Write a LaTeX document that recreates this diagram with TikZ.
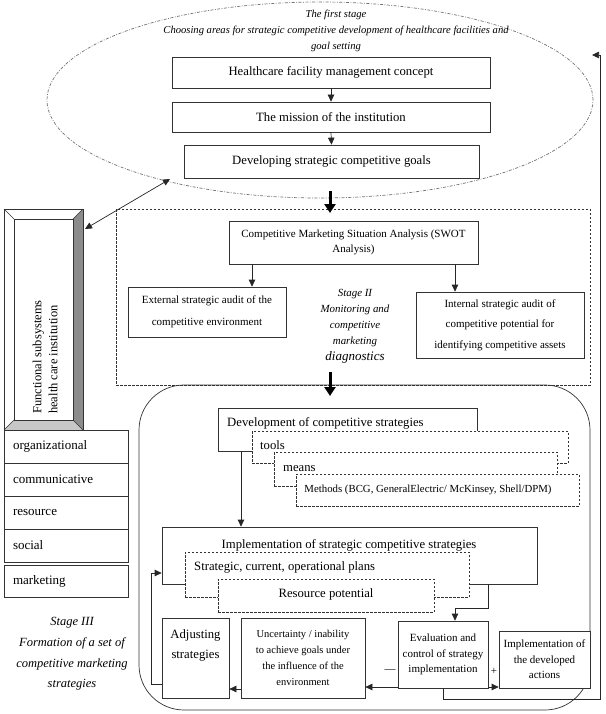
\documentclass[tikz,border=0pt]{standalone}
\usepackage{fontspec}
\setmainfont{Liberation Serif}
\usetikzlibrary{arrows.meta,shapes.geometric}
\newcommand\myfs[2]{\fontsize{#1}{#2}\selectfont}
\begin{document}
\begin{tikzpicture}[x=1pt,y=-1pt,
  bx/.style={draw=black!80, line width=0.7pt, fill=white, inner sep=0pt, align=center},
  dbx/.style={draw=black!80, line width=0.7pt, dash pattern=on 2.5pt off 1.5pt, fill=white, inner sep=0pt},
  arr/.style={draw=black!85, line width=0.7pt, -{Triangle[length=7pt,width=6.5pt]}},
  darr/.style={draw=black!85, line width=0.7pt, {Triangle[length=7pt,width=6.5pt]}-{Triangle[length=7pt,width=6.5pt]}},
  thk/.style={draw=black, line width=3pt, -{Triangle[length=9pt,width=11pt]}},
  lbl/.style={inner sep=0pt, align=center},
  big/.style={font=\myfs{12.7}{15}},
  mid/.style={font=\myfs{11}{15.5}},
  lst/.style={bx, minimum width=124pt, minimum height=33pt, text width=106pt, align=left, font=\myfs{13}{15}}
]
\useasboundingbox (0,0) rectangle (605,714);
\fill[white] (0,0) rectangle (605,714);

% ---------- Stage I ----------
\node[ellipse, draw=black!55, line width=0.7pt, dash pattern=on 3pt off 1.5pt on 0.8pt off 1.5pt,
      minimum width=546pt, minimum height=196pt, inner sep=0pt] (ell) at (320,100) {};
\node[lbl, font=\itshape\myfs{10.6}{16}] (fst) at (336,31)
  {The first stage\\Choosing areas for strategic competitive development of healthcare facilities and\\goal setting};
\node[bx, big, minimum width=318pt, minimum height=31pt] (hc) at (331,72.5) {Healthcare facility management concept};
\node[bx, big, minimum width=318pt, minimum height=30pt] (mis) at (331,117) {The mission of the institution};
\node[bx, big, minimum width=295pt, minimum height=33pt] (goal) at (331.5,161.5) {Developing strategic competitive goals};
\draw[arr] (hc.south) -- (mis.north);
\draw[arr] (mis.south) -- (goal.north);

% ---------- Stage II ----------
\node[dbx, fill=none, minimum width=474pt, minimum height=176pt] (s2) at (353,297) {};
\node[bx, font=\myfs{11}{15}, minimum width=249pt, minimum height=43pt] (swot) at (353.5,242.5)
  {Competitive Marketing Situation Analysis (SWOT\\Analysis)};
\node[bx, font=\myfs{11}{21.5}, minimum width=158pt, minimum height=50pt] (ext) at (207,312)
  {External strategic audit of the\\competitive environment};
\node[bx, font=\myfs{11}{20.5}, minimum width=168pt, minimum height=66pt] (int) at (500,325)
  {Internal strategic audit of\\competitive potential for\\identifying competitive assets};
\node[lbl, font=\itshape\myfs{10.9}{16}] (s2t) at (355,326)
  {Stage II\\Monitoring and\\competitive\\marketing\\{\myfs{13}{16}diagnostics}};
\coordinate (c1) at (252,270);
\coordinate (c2) at (455,270);
\draw[arr] (swot.south -| c1) -- (ext.north -| c1);
\draw[arr] (swot.south -| c2) -- (int.north -| c2);

\coordinate (t1a) at (330,191);
\coordinate (t1b) at (330,213);
\draw[thk] (t1a) -- (t1b);

% ---------- Stage III ----------
\node[draw=black!80, line width=0.7pt, rounded corners=45pt, minimum width=451pt, minimum height=325pt, inner sep=0pt] (s3) at (364.5,547.5) {};
\coordinate (t2a) at (330,372);
\coordinate (t2b) at (330,396);
\draw[thk] (t2a) -- (t2b);

\node[bx, minimum width=259pt, minimum height=43pt] (dev) at (347.5,429.5) {};
\node[lbl, big, anchor=west] (devt) at (227,423) {Development of competitive strategies};
\node[dbx, minimum width=316pt, minimum height=32pt] (tools) at (410,447) {};
\node[lbl, big, anchor=west] (toolst) at (260,445) {tools};
\node[dbx, minimum width=283pt, minimum height=34pt] (means) at (415.5,469) {};
\node[lbl, big, anchor=west] (meanst) at (283,469) {means};
\node[dbx, minimum width=283pt, minimum height=32pt] (meth) at (437.5,490) {};
\node[lbl, font=\myfs{10.8}{13}] (metht) at (428,490) {Methods (BCG, GeneralElectric/ McKinsey, Shell/DPM)};

\node[bx, minimum width=375pt, minimum height=57pt] (impl) at (349.5,555.5) {};
\node[lbl, big] (implt) at (349,545) {Implementation of strategic competitive strategies};
\node[dbx, minimum width=284pt, minimum height=45pt] (plan) at (327,574.5) {};
\node[lbl, big, anchor=west] (plant) at (194,567) {Strategic, current, operational plans};
\node[dbx, minimum width=216pt, minimum height=33pt] (res) at (326,595.5) {};
\node[lbl, big] (rest) at (326,594) {Resource potential};

\coordinate (g241) at (241,500);
\draw[arr] (dev.south -| g241) -- (impl.north -| g241);

\node[bx, minimum width=67pt, minimum height=80pt] (adj) at (195.5,658) {};
\node[lbl, font=\myfs{12.7}{20}] (adjt) at (195.5,645) {Adjusting\\strategies};
\node[bx, font=\myfs{10.5}{16}, minimum width=124pt, minimum height=80pt] (unc) at (303,658)
  {Uncertainty / inability\\to achieve goals under\\the influence of the\\environment};
\node[bx, mid, minimum width=90pt, minimum height=67pt] (eval) at (443,654.5)
  {Evaluation and\\control of strategy\\implementation};
\node[bx, mid, minimum width=91pt, minimum height=57pt] (act) at (544.5,659.5)
  {Implementation of\\the developed\\actions};
\node[lbl, font=\myfs{11}{13}] (minus) at (390,671) {—};
\node[lbl, font=\myfs{11}{13}] (plus) at (494,671) {+};

% connectors stage III
\coordinate (g488) at (488,608);
\coordinate (g455) at (455,608);
\draw[arr] (impl.south -| g488) -- (g488) -- (g455) -- (eval.north -| g455);
\coordinate (h687) at (0,687);
\coordinate (h689) at (0,689);
\coordinate (h684) at (0,684);
\draw[arr] (eval.west |- h687) -- (unc.east |- h687);
\draw[arr] (eval.east |- h687) -- (act.west |- h687);
\draw[arr] (unc.west |- h689) -- (adj.east |- h689);
\coordinate (g151) at (151,573);
\draw[arr] (adj.west |- h684) -- (g151 |- h684) -- (g151) -- (impl.west |- g151);
\coordinate (r1) at (600,699);
\coordinate (r2) at (600,55);
\coordinate (r3) at (592,55);
\draw[arr] (eval.south) |- (r1) -- (r2) -- (r3);

\node[lbl, font=\itshape\myfs{12.5}{20.7}] (s3t) at (72,654)
  {Stage III\\Formation of a set of\\competitive marketing\\strategies};

% ---------- Functional subsystems ----------
\fill[black!45] (73,219) -- (83,209) -- (83,430) -- (73,420) -- cycle;
\fill[black!22] (14,420) -- (73,420) -- (83,430) -- (4,430) -- cycle;
\draw[black!80, line width=0.7pt] (4,209) rectangle (83,430);
\draw[black!80, line width=0.7pt] (14,219) rectangle (73,420);
\draw[black!80, line width=0.6pt] (4,209) -- (14,219) (83,209) -- (73,219) (4,430) -- (14,420) (83,430) -- (73,420);
\node[lbl, rotate=90, anchor=west, align=left, font=\myfs{12.5}{16}] (fsub) at (45,414)
  {Functional subsystems\\health care institution};
\node[lst] (org) at (66,446.5) {organizational};
\node[lst] (com) at (66,479.5) {communicative};
\node[lst] (rsc) at (66,512.5) {resource};
\node[lst] (soc) at (66,545.5) {social};
\node[lst, minimum height=32pt] (mkt) at (66,581) {marketing};

\coordinate (d1) at (85,229);
\coordinate (d2) at (170,179);
\draw[darr] (d1) -- (d2);
\end{tikzpicture}
\end{document}
